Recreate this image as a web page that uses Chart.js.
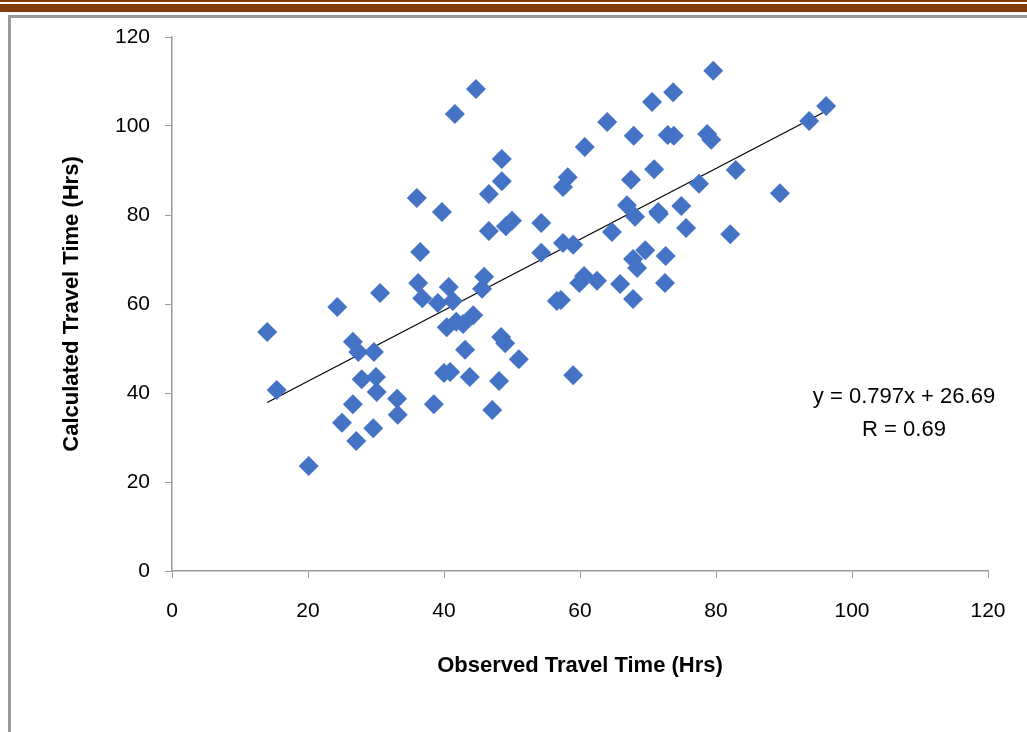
<!DOCTYPE html>
<html>
<head>
<meta charset="utf-8">
<script src="https://cdn.jsdelivr.net/npm/chart.js@4.4.1/dist/chart.umd.min.js"></script>
<style>
    body { margin: 0; background: #fff; }
    .rule-thin { position: absolute; left: 0; top: 0; width: 1027px; height: 2px; background: #843c0c; }
    .rule-thick { position: absolute; left: 0; top: 4px; width: 1027px; height: 8px; background: #843c0c; }
    .frame { position: absolute; left: 8px; top: 15px; width: 1040px; height: 740px; border-left: 3px solid #9a9a9a; border-top: 3px solid #9a9a9a; }
    #wrap { position: absolute; left: 0; top: 0; width: 1027px; height: 732px; }
</style>
</head>
<body>
<div class="rule-thin"></div>
<div class="rule-thick"></div>
<div class="frame"></div>
<div id="wrap"><canvas id="chart-travel-time" width="1027" height="732"></canvas></div>
<script>
// valores (horas)
const observed = [
    14.0, 15.4, 20.1, 24.3, 25.0, 26.6, 26.6, 27.1, 27.4, 27.9,
    29.7, 30.0, 29.6, 30.1, 30.6, 33.1, 33.2, 36.0, 36.5, 36.2,
    36.8, 38.5, 39.1, 39.7, 40.0, 40.4, 40.9, 40.7, 41.3, 41.6,
    41.8, 42.8, 43.1, 43.8, 44.3, 44.7, 45.6, 45.9, 46.6, 46.6,
    47.1, 48.1, 48.5, 48.5, 48.4, 49.0, 49.1, 50.0, 51.0, 54.3,
    54.3, 56.6, 57.2, 57.5, 57.5, 58.2, 59.0, 59.0, 59.9, 60.6,
    60.7, 62.5, 64.0, 64.7, 65.9, 66.9, 67.5, 67.8, 67.9, 68.1,
    67.8, 68.4, 69.6, 70.6, 70.9, 71.5, 71.6, 72.5, 72.6, 72.9,
    73.8, 73.7, 74.9, 75.6, 77.5, 78.7, 79.3, 79.6, 82.1, 82.9,
    89.4, 93.7, 96.2
];
const calculated = [
    53.7, 40.7, 23.6, 59.3, 33.3, 51.5, 37.5, 29.2, 49.2, 43.1,
    49.2, 43.6, 32.1, 40.2, 62.5, 38.7, 35.1, 83.8, 71.7, 64.7,
    61.3, 37.5, 60.2, 80.7, 44.5, 54.8, 44.7, 63.8, 60.7, 102.7,
    56.0, 55.5, 49.7, 43.6, 57.5, 108.3, 63.4, 66.1, 84.7, 76.4,
    36.2, 42.7, 92.6, 87.6, 52.6, 51.2, 77.5, 78.7, 47.6, 78.2,
    71.5, 60.7, 60.9, 73.7, 86.3, 88.5, 44.0, 73.3, 64.7, 66.3,
    95.3, 65.2, 100.9, 76.2, 64.5, 82.2, 87.9, 61.1, 97.8, 79.6,
    70.1, 68.1, 72.1, 105.4, 90.3, 80.7, 80.2, 64.7, 70.8, 98.0,
    97.8, 107.6, 82.0, 77.1, 87.0, 98.2, 96.9, 112.4, 75.7, 90.1,
    84.9, 101.1, 104.5
];
const axisTicks = [0, 20, 40, 60, 80, 100, 120];
const trendSlope = 0.797;
const trendIntercept = 26.69;
const trendR = 0.69;

const points = observed.map((x, i) => ({ x: x, y: calculated[i] }));
const xMin = Math.min(...observed);
const xMax = Math.max(...observed);
const trendPoints = [
    { x: xMin, y: trendSlope * xMin + trendIntercept },
    { x: xMax, y: trendSlope * xMax + trendIntercept }
];

const axisGray = '#9a9a9a';
const fontFamily = '"Liberation Sans", Arial, sans-serif';

// sem padding automatico das escalas, para fixar a area do grafico
const fixScale = (size) => (scale) => {
    if (scale.isHorizontal()) {
        scale.height = size;
    } else {
        scale.width = size;
    }
    scale.paddingTop = 0;
    scale.paddingBottom = 0;
    scale.paddingLeft = 0;
    scale.paddingRight = 0;
};

const equationLabel = {
    id: 'equationLabel',
    afterDatasetsDraw(chart) {
        const { ctx, chartArea } = chart;
        const cx = chartArea.right - 84;
        ctx.save();
        ctx.fillStyle = '#000';
        ctx.font = `22px ${fontFamily}`;
        ctx.textAlign = 'center';
        ctx.textBaseline = 'middle';
        ctx.fillText(`y = ${trendSlope}x + ${trendIntercept}`, cx, chartArea.top + 360);
        ctx.fillText(`R = ${trendR}`, cx, chartArea.top + 393);
        ctx.restore();
    }
};

const config = {
    type: 'scatter',
    data: {
        datasets: [{
            label: 'Travel Time',
            data: points,
            pointStyle: 'rectRot',
            pointRadius: 10,
            pointHoverRadius: 10,
            backgroundColor: '#4472c4',
            borderColor: '#4472c4',
            borderWidth: 0
        }, {
            label: 'Trend',
            data: trendPoints,
            showLine: true,
            pointRadius: 0,
            borderColor: '#000',
            borderWidth: 1.2
        }]
    },
    options: {
        responsive: false,
        animation: false,
        layout: {
            padding: { left: 50, right: 39, top: 37, bottom: 41 }
        },
        plugins: {
            legend: { display: false },
            tooltip: { enabled: false }
        },
        scales: {
            x: {
                type: 'linear',
                min: axisTicks[0],
                max: axisTicks[axisTicks.length - 1],
                afterFit: fixScale(120),
                ticks: {
                    stepSize: axisTicks[1] - axisTicks[0],
                    padding: 21,
                    color: '#000',
                    font: { family: fontFamily, size: 21 }
                },
                grid: { drawOnChartArea: false, drawTicks: true, tickLength: 7, color: axisGray },
                border: { display: true, color: axisGray, width: 1.5 },
                title: {
                    display: true,
                    text: 'Observed Travel Time (Hrs)',
                    color: '#000',
                    padding: { top: 0, bottom: 12 },
                    font: { family: fontFamily, size: 22, weight: 'bold' }
                }
            },
            y: {
                type: 'linear',
                min: axisTicks[0],
                max: axisTicks[axisTicks.length - 1],
                afterFit: fixScale(122),
                ticks: {
                    stepSize: axisTicks[1] - axisTicks[0],
                    padding: 15,
                    color: '#000',
                    font: { family: fontFamily, size: 21 }
                },
                grid: { drawOnChartArea: false, drawTicks: true, tickLength: 7, color: axisGray },
                border: { display: true, color: axisGray, width: 1.5 },
                title: {
                    display: true,
                    text: 'Calculated Travel Time (Hrs)',
                    color: '#000',
                    padding: { top: 9, bottom: 0 },
                    font: { family: fontFamily, size: 22, weight: 'bold' }
                }
            }
        }
    },
    plugins: [equationLabel]
};

document.addEventListener('DOMContentLoaded', () => {
    const ctx = document.getElementById('chart-travel-time').getContext('2d');
    new Chart(ctx, config);
});
</script>
</body>
</html>
